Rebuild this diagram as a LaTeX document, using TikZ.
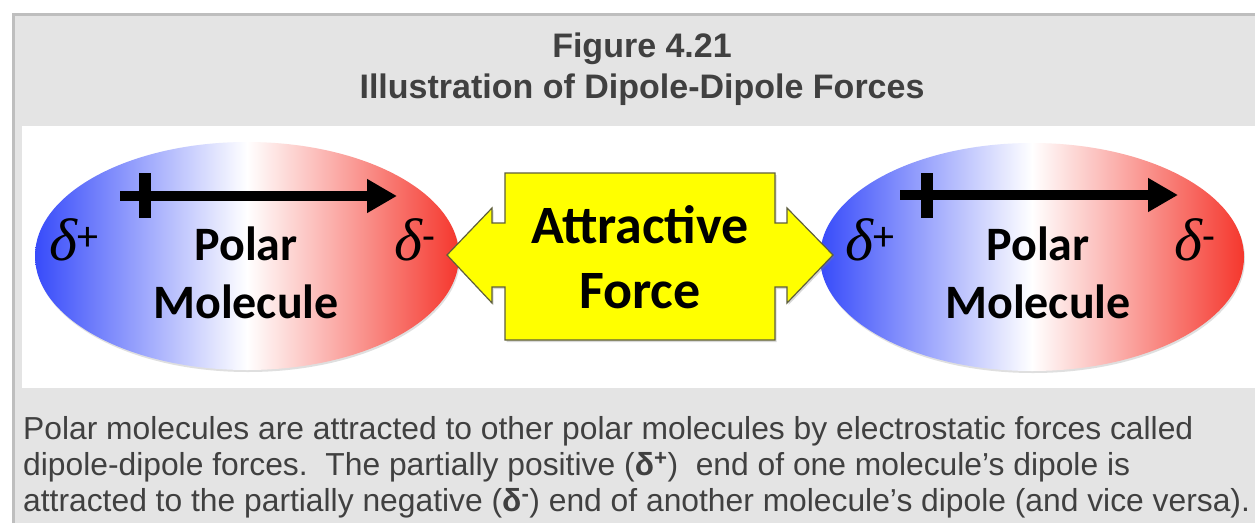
\documentclass[tikz,border=0pt]{standalone}
\usepackage{fontspec}
\setmainfont{Liberation Sans}
\newfontfamily\calibri{Carlito}
\newfontfamily\deltafont{Liberation Serif}
\usetikzlibrary{arrows.meta,shapes.geometric,shadows}
\definecolor{panelGray}{RGB}{228,228,228}
\definecolor{frameGray}{RGB}{190,190,190}
\definecolor{textGray}{RGB}{64,64,64}
\definecolor{dipoleBlue}{RGB}{55,75,250}
\definecolor{dipoleRed}{RGB}{245,55,45}
\definecolor{forceYellow}{RGB}{255,255,0}
\definecolor{forceEdge}{RGB}{95,95,60}
\newcommand{\dplus}{{\deltafont\itshape δ}\textsuperscript{+}}
\newcommand{\dminus}{{\deltafont\itshape δ}\textsuperscript{-}}

\begin{document}
\begin{tikzpicture}[x=1pt,y=-1pt,
    titletext/.style={font=\bfseries\fontsize{34}{41}\selectfont, text=textGray, inner sep=0pt, anchor=base},
    bodytext/.style={font=\fontsize{31.8}{36}\selectfont, text=textGray, inner sep=0pt, anchor=base west},
    molecule/.style={ellipse, inner sep=0pt, minimum width=424pt, minimum height=228pt,
      left color=dipoleBlue, right color=dipoleRed, middle color=white,
      drop shadow={shadow xshift=1pt, shadow yshift=-2pt, opacity=0.25}},
    mollabel/.style={font=\calibri\bfseries\fontsize{48}{58}\selectfont, inner sep=0pt, anchor=base},
    forcelabel/.style={font=\calibri\bfseries\fontsize{54}{65}\selectfont, inner sep=0pt, anchor=base},
    charge/.style={font=\calibri\fontsize{60}{64}\selectfont, inner sep=0pt, anchor=base west},
    dipole/.style={line width=10pt, -{Triangle[length=30pt,width=32pt]}},
    dipolebar/.style={line width=12pt},
    forcebox/.style={fill=forceYellow, draw=forceEdge, line width=1.2pt, line join=miter,
      drop shadow={shadow xshift=1.5pt, shadow yshift=-2pt, opacity=0.3}}]
  \useasboundingbox (0,0) rectangle (1255,523);
  % panel and frame
  \fill[panelGray] (12,13) rectangle (1255,523);
  \draw[frameGray, line width=3pt] (13.5,523) -- (13.5,14.5) -- (1255,14.5);
  \fill[white] (22,126) rectangle (1255,388);
  % caption
  \node[titletext] (figno) at (642,57) {Figure 4.21};
  \node[titletext] (figtitle) at (642,98) {Illustration of Dipole-Dipole Forces};
  % molecules
  \node[molecule] (molL) at (247,256) {};
  \node[molecule] (molR) at (1032,257) {};
  \coordinate (tailL) at (120,196);
  \coordinate (headL) at (397,196);
  \coordinate (barTopL) at (145,173);
  \coordinate (barBotL) at (145,218);
  \coordinate (tailR) at (900,195);
  \coordinate (headR) at (1178,195);
  \coordinate (barTopR) at (927,173);
  \coordinate (barBotR) at (927,218);
  \draw[dipole] (tailL) -- (headL);
  \draw[dipolebar] (barTopL) -- (barBotL);
  \draw[dipole] (tailR) -- (headR);
  \draw[dipolebar] (barTopR) -- (barBotR);
  \node[mollabel] (polarL) at (246,260) {Polar};
  \node[mollabel] (moleL) at (246,318) {Molecule};
  \node[mollabel] (polarR) at (1038,260) {Polar};
  \node[mollabel] (moleR) at (1038,318) {Molecule};
  \node[charge] (plusL) at (49,260) {\dplus};
  \node[charge] (minusL) at (394,260) {\dminus};
  \node[charge] (plusR) at (845,260) {\dplus};
  \node[charge] (minusR) at (1174,260) {\dminus};
  % attractive force callout
  \draw[forcebox] (505,173) -- (775,173) -- (775,223) -- (787,223) -- (787,208)
    -- (833,255) -- (787,303) -- (787,287) -- (775,287) -- (775,340) -- (505,340)
    -- (505,287) -- (492,287) -- (492,303) -- (447,255) -- (492,208) -- (492,223)
    -- (505,223) -- cycle;
  \node[forcelabel] (attr) at (640,243) {Attractive};
  \node[forcelabel] (force) at (640,308) {Force};
  % explanation
  \node[bodytext] (lineA) at (23,439) {Polar molecules are attracted to other polar molecules by electrostatic forces called};
  \node[bodytext] (lineB) at (23,475) {dipole-dipole forces.\ \ The partially positive ({\bfseries δ\textsuperscript{+}})\ \ end of one molecule’s dipole is};
  \node[bodytext] (lineC) at (23,511) {attracted to the partially negative ({\bfseries δ\textsuperscript{-}}) end of another molecule’s dipole (and vice versa).};
\end{tikzpicture}
\end{document}
